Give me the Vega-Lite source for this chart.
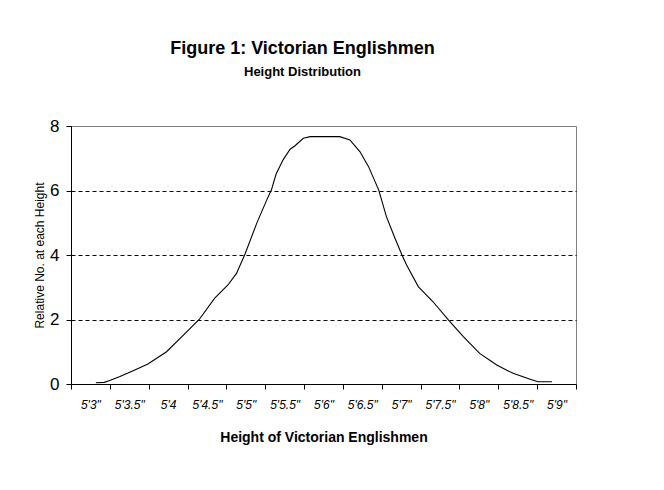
{
  "$schema": "https://vega.github.io/schema/vega-lite/v6.json",
  "autosize": "none",
  "width": 505,
  "height": 258,
  "padding": {"left": 71, "top": 126, "right": 88, "bottom": 106},
  "background": "white",
  "config": {
    "font": "Liberation Sans",
    "view": {"stroke": "#808080", "strokeWidth": 1}
  },
  "title": {
    "text": "Figure 1: Victorian Englishmen",
    "subtitle": "Height Distribution",
    "anchor": "middle",
    "frame": "group",
    "dx": -21,
    "offset": 38,
    "font": "Liberation Sans",
    "fontSize": 18,
    "fontWeight": "bold",
    "color": "black",
    "subtitleFont": "Liberation Sans",
    "subtitleFontSize": 13,
    "subtitleFontWeight": "bold",
    "subtitleColor": "black",
    "subtitlePadding": 8
  },
  "data": {
    "values": [
      {"height": 63.07, "count": 0.04},
      {"height": 63.18, "count": 0.05},
      {"height": 63.24, "count": 0.1},
      {"height": 63.38, "count": 0.23},
      {"height": 63.55, "count": 0.41},
      {"height": 63.74, "count": 0.62},
      {"height": 63.98, "count": 1.0},
      {"height": 64.2, "count": 1.52},
      {"height": 64.4, "count": 2.0},
      {"height": 64.6, "count": 2.66},
      {"height": 64.77, "count": 3.07},
      {"height": 64.88, "count": 3.43},
      {"height": 64.99, "count": 4.03},
      {"height": 65.14, "count": 4.98},
      {"height": 65.27, "count": 5.71},
      {"height": 65.33, "count": 6.02},
      {"height": 65.39, "count": 6.51},
      {"height": 65.48, "count": 6.95},
      {"height": 65.57, "count": 7.28},
      {"height": 65.63, "count": 7.38},
      {"height": 65.74, "count": 7.62},
      {"height": 65.83, "count": 7.67},
      {"height": 66.21, "count": 7.67},
      {"height": 66.34, "count": 7.57},
      {"height": 66.47, "count": 7.2},
      {"height": 66.58, "count": 6.74},
      {"height": 66.71, "count": 6.02},
      {"height": 66.81, "count": 5.19},
      {"height": 66.92, "count": 4.52},
      {"height": 67.01, "count": 4.0},
      {"height": 67.07, "count": 3.69},
      {"height": 67.22, "count": 3.02},
      {"height": 67.41, "count": 2.55},
      {"height": 67.61, "count": 1.98},
      {"height": 67.8, "count": 1.47},
      {"height": 68.01, "count": 0.95},
      {"height": 68.23, "count": 0.59},
      {"height": 68.44, "count": 0.33},
      {"height": 68.66, "count": 0.15},
      {"height": 68.76, "count": 0.07},
      {"height": 68.94, "count": 0.07}
    ]
  },
  "mark": {"type": "line", "color": "black", "strokeWidth": 1.1, "interpolate": "linear"},
  "encoding": {
    "x": {
      "field": "height",
      "type": "quantitative",
      "scale": {"domain": [62.75, 69.25], "nice": false, "zero": false},
      "axis": {
        "title": "Height of Victorian Englishmen",
        "titleFont": "Liberation Sans",
        "titleFontSize": 14,
        "titleFontWeight": "bold",
        "titleColor": "black",
        "titlePadding": 20,
        "values": [62.75, 63.25, 63.75, 64.25, 64.75, 65.25, 65.75, 66.25, 66.75, 67.25, 67.75, 68.25, 68.75, 69.25],
        "labelExpr": "datum.value > 69 ? '' : (datum.value == 63.75 ? \"5'4\" : \"5'\" + (datum.value - 59.75) + '\"')",
        "labelOffset": 19.4,
        "labelFont": "Liberation Sans",
        "labelFontSize": 12,
        "labelFontStyle": "italic",
        "labelColor": "black",
        "labelPadding": 10,
        "labelFlush": false,
        "labelOverlap": false,
        "domainColor": "black",
        "tickColor": "black",
        "tickSize": 5,
        "grid": false
      }
    },
    "y": {
      "field": "count",
      "type": "quantitative",
      "scale": {"domain": [0, 8], "nice": false},
      "axis": {
        "title": "Relative No. at each Height",
        "titleFont": "Liberation Sans",
        "titleFontSize": 12,
        "titleFontWeight": "normal",
        "titleColor": "black",
        "titlePadding": 3,
        "values": [0, 2, 4, 6, 8],
        "labelFont": "Liberation Sans",
        "labelFontSize": 17,
        "labelColor": "black",
        "labelPadding": 7,
        "domainColor": "black",
        "tickColor": "black",
        "tickSize": 5,
        "grid": true,
        "gridColor": "black",
        "gridDash": [4, 3],
        "gridWidth": 1,
        "gridOpacity": {"condition": {"test": "datum.value == 0 || datum.value == 8", "value": 0}, "value": 1}
      }
    }
  }
}
